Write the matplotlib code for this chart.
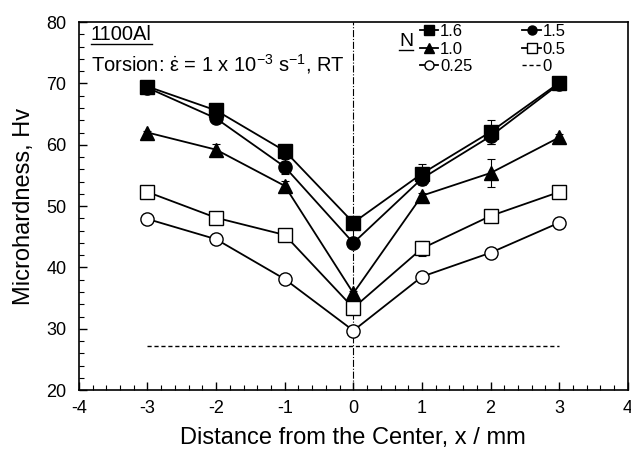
import numpy as np
import matplotlib
matplotlib.use("Agg")
import matplotlib.pyplot as plt
from matplotlib.lines import Line2D

plt.rcParams['font.family'] = ['Liberation Sans', 'DejaVu Sans']
plt.rcParams['mathtext.fontset'] = 'custom'
plt.rcParams['mathtext.rm'] = 'Liberation Sans'
plt.rcParams['mathtext.it'] = 'Liberation Sans'
plt.rcParams['axes.unicode_minus'] = False

# data: distance from center (mm) and microhardness (Hv)
x = [-3, -2, -1, 0, 1, 2, 3]
hv_16 = [69.5, 65.6, 59.0, 47.3, 55.3, 62.1, 70.1]
hv_15 = [69.3, 64.3, 56.4, 44.0, 54.5, 61.4, 69.9]
hv_10 = [62.0, 59.2, 53.3, 35.8, 51.7, 55.4, 61.2]
hv_05 = [52.3, 48.1, 45.3, 33.4, 43.1, 48.4, 52.3]
hv_025 = [47.9, 44.6, 38.1, 29.7, 38.5, 42.4, 47.3]
err_16 = [0.3, 1.0, 0.5, 0.5, 1.5, 2.0, 0.5]
err_15 = [0.3, 0.5, 1.2, 0.3, 1.0, 1.3, 0.3]
err_10 = [0.3, 1.0, 0.8, 0.3, 0.5, 2.3, 0.5]
err_05 = [0.3, 0.3, 0.8, 0.3, 1.2, 0.3, 0.3]
err_025 = [0.3, 0.8, 0.3, 0.5, 0.3, 0.7, 0.3]
x_base = [-3, 3]
hv_base = [27.2, 27.2]

fig = plt.figure(figsize=(6.31, 4.51), dpi=100)
ax = fig.add_axes([0.125, 0.135, 0.87, 0.816])

# center line
ax.axvline(0, color='black', lw=0.8, ls='-.', zorder=1)

series = [
    (hv_16, err_16, 's', 'black', '1.6'),
    (hv_15, err_15, 'o', 'black', '1.5'),
    (hv_10, err_10, '^', 'black', '1.0'),
    (hv_05, err_05, 's', 'white', '0.5'),
    (hv_025, err_025, 'o', 'white', '0.25'),
]
handles = {}
for y, e, m, fc, lab in series:
    ax.errorbar(x, y, yerr=e, fmt='none', ecolor='black', elinewidth=0.8,
                capsize=3, capthick=0.8, zorder=2)
    ax.plot(x, y, color='black', lw=1.3, marker=m, ms=9.5 if m != '^' else 10,
            mfc=fc, mec='black', mew=1.0, zorder=3)
    handles[lab] = Line2D([], [], color='black', lw=1.3, marker=m, ms=6.5,
                          mfc=fc, mec='black', mew=1.0)

ax.plot(x_base, hv_base, color='black', lw=1.0, ls=(0, (3, 2)), zorder=2)
handles['0'] = Line2D([], [], color='black', lw=1.0, ls=(0, (3, 2)))

ax.set_xlim(-4, 4)
ax.set_ylim(20, 80)
ax.set_xticks(np.arange(-4, 5, 1))
ax.set_yticks(np.arange(20, 81, 10))
ax.set_xticks(np.arange(-4, 4.01, 0.2), minor=True)
ax.set_yticks(np.arange(20, 80.1, 2), minor=True)
ax.tick_params(which='both', direction='in', top=False, right=False)
ax.tick_params(which='major', length=6, width=1, labelsize=13)
ax.tick_params(axis='y', which='major', pad=9)
ax.tick_params(axis='x', which='major', pad=7)
ax.tick_params(which='minor', length=3.5, width=0.8)
for s in ax.spines.values():
    s.set_linewidth(1.2)

ax.set_xlabel('Distance from the Center, x / mm', fontsize=17, labelpad=7)
ax.set_ylabel('Microhardness, Hv', fontsize=17, labelpad=8)

# labels in the upper left
t1 = fig.text(91 / 631, 1 - 35 / 451, '1100Al', fontsize=14.5,
              va='center', ha='left')
fig.text(91 / 631, 1 - 64 / 451,
         r'Torsion: $\dot{\varepsilon}$ = 1 x 10$^{-3}$ s$^{-1}$, RT',
         fontsize=14.5, va='center', ha='left')
tN = fig.text(399 / 631, 1 - 42 / 451, 'N', fontsize=14, va='center', ha='left')

order = ['1.6', '1.0', '0.25', '1.5', '0.5', '0']
ax.legend([handles[k] for k in order], order, ncol=2, frameon=False,
          loc='upper left', bbox_to_anchor=(420 / 631, 1 - 24 / 451),
          bbox_transform=fig.transFigure, fontsize=12,
          handlelength=1.1, handletextpad=0.1, columnspacing=3.0,
          labelspacing=0.15, borderpad=0, borderaxespad=0)

# underline text items
fig.canvas.draw()
r = fig.canvas.get_renderer()
for t in (t1, tN):
    bb = t.get_window_extent(renderer=r)
    yb = bb.y0 + 1
    fig.add_artist(Line2D([bb.x0 / fig.bbox.width, bb.x1 / fig.bbox.width],
                          [yb / fig.bbox.height, yb / fig.bbox.height],
                          color='black', lw=1.0))

plt.savefig('out.png', dpi=100)
